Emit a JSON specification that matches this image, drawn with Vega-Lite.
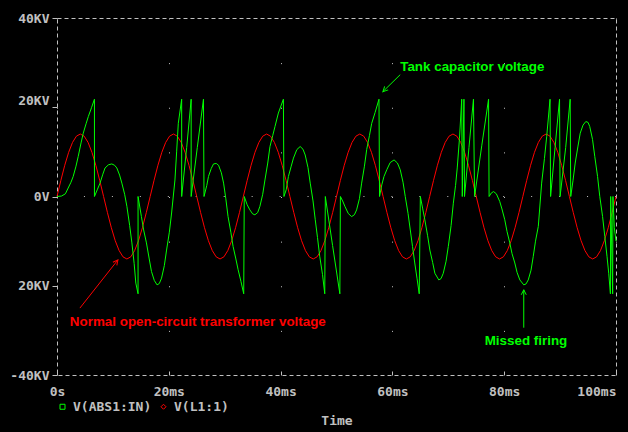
{
  "$schema": "https://vega.github.io/schema/vega-lite/v6.json",
  "width": 559,
  "height": 357,
  "autosize": {"type": "none"},
  "padding": {"left": 57, "top": 18, "right": 12, "bottom": 57},
  "background": "#000000",
  "datasets": {
    "one": [{}],
    "red": [
      {"t":0,"v":0},{"t":0.694,"v":3.62},{"t":1.389,"v":7},{"t":2.083,"v":9.9},{"t":2.778,"v":12.12},{"t":3.472,"v":13.52},{"t":4.167,"v":14},{"t":4.861,"v":13.52},{"t":5.556,"v":12.12},{"t":6.25,"v":9.9},{"t":6.944,"v":7},{"t":7.639,"v":3.62},{"t":8.333,"v":0},{"t":9.028,"v":-3.62},{"t":9.722,"v":-7},{"t":10.417,"v":-9.9},{"t":11.111,"v":-12.12},{"t":11.806,"v":-13.52},{"t":12.5,"v":-14},{"t":13.194,"v":-13.52},{"t":13.889,"v":-12.12},{"t":14.583,"v":-9.9},{"t":15.278,"v":-7},{"t":15.972,"v":-3.62},
      {"t":16.667,"v":0},{"t":17.361,"v":3.62},{"t":18.056,"v":7},{"t":18.75,"v":9.9},{"t":19.444,"v":12.12},{"t":20.139,"v":13.52},{"t":20.833,"v":14},{"t":21.528,"v":13.52},{"t":22.222,"v":12.12},{"t":22.917,"v":9.9},{"t":23.611,"v":7},{"t":24.306,"v":3.62},{"t":25,"v":0},{"t":25.694,"v":-3.62},{"t":26.389,"v":-7},{"t":27.083,"v":-9.9},{"t":27.778,"v":-12.12},{"t":28.472,"v":-13.52},{"t":29.167,"v":-14},{"t":29.861,"v":-13.52},{"t":30.556,"v":-12.12},{"t":31.25,"v":-9.9},{"t":31.944,"v":-7},{"t":32.639,"v":-3.62},
      {"t":33.333,"v":0},{"t":34.028,"v":3.62},{"t":34.722,"v":7},{"t":35.417,"v":9.9},{"t":36.111,"v":12.12},{"t":36.806,"v":13.52},{"t":37.5,"v":14},{"t":38.194,"v":13.52},{"t":38.889,"v":12.12},{"t":39.583,"v":9.9},{"t":40.278,"v":7},{"t":40.972,"v":3.62},{"t":41.667,"v":0},{"t":42.361,"v":-3.62},{"t":43.056,"v":-7},{"t":43.75,"v":-9.9},{"t":44.444,"v":-12.12},{"t":45.139,"v":-13.52},{"t":45.833,"v":-14},{"t":46.528,"v":-13.52},{"t":47.222,"v":-12.12},{"t":47.917,"v":-9.9},{"t":48.611,"v":-7},{"t":49.306,"v":-3.62},
      {"t":50,"v":0},{"t":50.694,"v":3.62},{"t":51.389,"v":7},{"t":52.083,"v":9.9},{"t":52.778,"v":12.12},{"t":53.472,"v":13.52},{"t":54.167,"v":14},{"t":54.861,"v":13.52},{"t":55.556,"v":12.12},{"t":56.25,"v":9.9},{"t":56.944,"v":7},{"t":57.639,"v":3.62},{"t":58.333,"v":0},{"t":59.028,"v":-3.62},{"t":59.722,"v":-7},{"t":60.417,"v":-9.9},{"t":61.111,"v":-12.12},{"t":61.806,"v":-13.52},{"t":62.5,"v":-14},{"t":63.194,"v":-13.52},{"t":63.889,"v":-12.12},{"t":64.583,"v":-9.9},{"t":65.278,"v":-7},{"t":65.972,"v":-3.62},
      {"t":66.667,"v":0},{"t":67.361,"v":3.62},{"t":68.056,"v":7},{"t":68.75,"v":9.9},{"t":69.444,"v":12.12},{"t":70.139,"v":13.52},{"t":70.833,"v":14},{"t":71.528,"v":13.52},{"t":72.222,"v":12.12},{"t":72.917,"v":9.9},{"t":73.611,"v":7},{"t":74.306,"v":3.62},{"t":75,"v":0},{"t":75.694,"v":-3.62},{"t":76.389,"v":-7},{"t":77.083,"v":-9.9},{"t":77.778,"v":-12.12},{"t":78.472,"v":-13.52},{"t":79.167,"v":-14},{"t":79.861,"v":-13.52},{"t":80.556,"v":-12.12},{"t":81.25,"v":-9.9},{"t":81.944,"v":-7},{"t":82.639,"v":-3.62},
      {"t":83.333,"v":0},{"t":84.028,"v":3.62},{"t":84.722,"v":7},{"t":85.417,"v":9.9},{"t":86.111,"v":12.12},{"t":86.806,"v":13.52},{"t":87.5,"v":14},{"t":88.194,"v":13.52},{"t":88.889,"v":12.12},{"t":89.583,"v":9.9},{"t":90.278,"v":7},{"t":90.972,"v":3.62},{"t":91.667,"v":0},{"t":92.361,"v":-3.62},{"t":93.056,"v":-7},{"t":93.75,"v":-9.9},{"t":94.444,"v":-12.12},{"t":95.139,"v":-13.52},{"t":95.833,"v":-14},{"t":96.528,"v":-13.52},{"t":97.222,"v":-12.12},{"t":97.917,"v":-9.9},{"t":98.611,"v":-7},{"t":99.306,"v":-3.62},{"t":100,"v":0}
    ],
    "green": [
      {"t":0,"v":0},{"t":0.8,"v":0.1},{"t":1.5,"v":0.6},{"t":2.0,"v":1.9},{"t":2.5,"v":3.2},{"t":2.9,"v":4.5},{"t":3.4,"v":6.8},{"t":3.8,"v":9},{"t":4.3,"v":12},{"t":4.7,"v":14.2},{"t":5.2,"v":16.3},{"t":5.6,"v":17.9},{"t":6.2,"v":20},{"t":6.7,"v":21.8},{"t":6.7,"v":0},
      {"t":7.2,"v":1.5},{"t":7.7,"v":3},{"t":8.2,"v":5},{"t":8.6,"v":6.4},{"t":9.2,"v":7.1},{"t":9.8,"v":7.3},{"t":10.3,"v":7},{"t":10.7,"v":6.4},{"t":11.2,"v":4.8},{"t":11.6,"v":3},{"t":12.1,"v":0.5},{"t":12.5,"v":-2.2},{"t":13.0,"v":-6.5},{"t":13.4,"v":-10.4},{"t":13.8,"v":-15},{"t":14.1,"v":-19.4},{"t":14.5,"v":-21.8},{"t":14.5,"v":0},
      {"t":15.1,"v":-4.5},{"t":15.5,"v":-7.5},{"t":16.0,"v":-10.4},{"t":16.5,"v":-14},{"t":16.9,"v":-16.8},{"t":17.4,"v":-18.8},{"t":17.9,"v":-19.8},{"t":18.3,"v":-19.5},{"t":18.7,"v":-18.3},{"t":19.2,"v":-15.5},{"t":19.6,"v":-12},{"t":20.1,"v":-8},{"t":20.5,"v":-3.7},{"t":21.1,"v":3.7},{"t":21.4,"v":10},{"t":21.7,"v":16.4},{"t":22.3,"v":21.8},{"t":22.3,"v":0},
      {"t":23.2,"v":11},{"t":24.0,"v":21.8},{"t":24.0,"v":0},{"t":25.1,"v":11},{"t":26.2,"v":21.8},{"t":26.3,"v":0},
      {"t":26.8,"v":2.5},{"t":27.1,"v":4.5},{"t":27.6,"v":6.3},{"t":28.0,"v":7.3},{"t":28.5,"v":7.4},{"t":28.9,"v":7},{"t":29.4,"v":5.3},{"t":29.8,"v":3},{"t":30.2,"v":-0.5},{"t":30.6,"v":-4.5},{"t":31.1,"v":-8},{"t":31.5,"v":-11.2},{"t":32.0,"v":-14},{"t":32.4,"v":-16.4},{"t":32.9,"v":-19},{"t":33.4,"v":-21.8},{"t":33.5,"v":0},
      {"t":34.0,"v":-1.8},{"t":34.5,"v":-3},{"t":35.0,"v":-3.9},{"t":35.4,"v":-4.1},{"t":35.9,"v":-3.6},{"t":36.3,"v":-2.2},{"t":36.8,"v":0.5},{"t":37.2,"v":3.7},{"t":37.7,"v":7.5},{"t":38.1,"v":11.2},{"t":38.6,"v":13.7},{"t":39.0,"v":15.7},{"t":39.6,"v":18.7},{"t":40.5,"v":21.8},{"t":40.6,"v":0},
      {"t":41.0,"v":1.5},{"t":41.4,"v":4.5},{"t":41.9,"v":6.8},{"t":42.3,"v":8.6},{"t":42.9,"v":10.5},{"t":43.5,"v":11.2},{"t":44.0,"v":10.6},{"t":44.4,"v":9.3},{"t":44.9,"v":6.5},{"t":45.3,"v":3},{"t":45.8,"v":-1},{"t":46.2,"v":-5.2},{"t":46.6,"v":-9.2},{"t":47.0,"v":-13.4},{"t":47.5,"v":-17.5},{"t":47.9,"v":-21.8},{"t":48.0,"v":0},
      {"t":49.3,"v":-11},{"t":50.6,"v":-21.8},{"t":50.7,"v":0},
      {"t":51.1,"v":-1},{"t":51.5,"v":-2.2},{"t":52.1,"v":-3.8},{"t":52.7,"v":-4.5},{"t":53.2,"v":-4.1},{"t":53.6,"v":-3},{"t":54.1,"v":-0.5},{"t":54.5,"v":3},{"t":55.0,"v":6.8},{"t":55.4,"v":10.5},{"t":55.9,"v":13.7},{"t":56.3,"v":16.4},{"t":56.9,"v":18.8},{"t":57.6,"v":21.8},{"t":57.7,"v":0},
      {"t":58.1,"v":2.6},{"t":58.5,"v":4.5},{"t":59.0,"v":6},{"t":59.6,"v":7.6},{"t":60.3,"v":8.2},{"t":60.9,"v":7.5},{"t":61.4,"v":6},{"t":61.9,"v":3.2},{"t":62.3,"v":0},{"t":62.8,"v":-3.8},{"t":63.2,"v":-7.5},{"t":63.6,"v":-11.2},{"t":64.0,"v":-14.9},{"t":64.4,"v":-18.3},{"t":64.8,"v":-21.8},{"t":65.0,"v":0},
      {"t":65.4,"v":-2.6},{"t":65.8,"v":-5.2},{"t":66.3,"v":-8.8},{"t":66.7,"v":-12},{"t":67.2,"v":-14.8},{"t":67.6,"v":-17.2},{"t":68.3,"v":-18.7},{"t":68.7,"v":-18.4},{"t":69.1,"v":-17.2},{"t":69.6,"v":-14.5},{"t":70.0,"v":-11.2},{"t":70.5,"v":-6.5},{"t":70.9,"v":-1.5},{"t":71.3,"v":2.5},{"t":71.6,"v":6.4},{"t":72.0,"v":13},{"t":72.4,"v":21.8},{"t":72.5,"v":0},
      {"t":72.8,"v":21.8},{"t":72.9,"v":0},{"t":73.7,"v":11},{"t":74.5,"v":21.8},{"t":74.7,"v":0},{"t":76.0,"v":11.5},{"t":77.2,"v":21.8},{"t":77.3,"v":0},
      {"t":77.7,"v":0.8},{"t":78.1,"v":1.1},{"t":78.6,"v":0.6},{"t":79.2,"v":-1.1},{"t":79.6,"v":-2.8},{"t":80.1,"v":-5.2},{"t":80.5,"v":-7.8},{"t":81.0,"v":-10.4},{"t":81.4,"v":-12.8},{"t":81.9,"v":-14.9},{"t":82.3,"v":-17},{"t":82.8,"v":-18.7},{"t":83.5,"v":-19.8},{"t":83.9,"v":-19.6},{"t":84.3,"v":-18.7},{"t":84.8,"v":-16.5},{"t":85.2,"v":-13.4},{"t":85.6,"v":-10},{"t":86.1,"v":-6.7},{"t":86.7,"v":3},{"t":87.2,"v":8.5},{"t":87.6,"v":13.4},{"t":88.2,"v":21.8},{"t":88.3,"v":0},
      {"t":89.1,"v":11},{"t":89.9,"v":21.8},{"t":90.0,"v":0},{"t":91.0,"v":11},{"t":91.8,"v":21.8},{"t":91.9,"v":0},
      {"t":92.3,"v":3.5},{"t":92.7,"v":7.5},{"t":93.2,"v":11.3},{"t":93.6,"v":14.2},{"t":94.1,"v":16},{"t":94.6,"v":16.8},{"t":95.0,"v":16.6},{"t":95.3,"v":15.7},{"t":95.8,"v":12.8},{"t":96.2,"v":9},{"t":96.7,"v":4.5},{"t":97.1,"v":0},{"t":97.6,"v":-4.5},{"t":98.0,"v":-9},{"t":98.4,"v":-13.5},{"t":98.7,"v":-17.2},{"t":99.0,"v":-21.8},{"t":99.05,"v":0},{"t":99.4,"v":-21.8},{"t":99.45,"v":0},{"t":99.7,"v":-7},{"t":100,"v":-10}
    ]
  },
  "data": {"name": "one"},
  "layer": [
    {
      "mark": {"type": "rule", "color": "#c0c0c0", "strokeWidth": 1, "strokeDash": [1, 26.95]},
      "encoding": {"y": {"datum": 0}}
    },
    {
      "data": {"name": "red"},
      "mark": {"type": "line", "strokeWidth": 1},
      "encoding": {
        "x": {
          "field": "t", "type": "quantitative", "title": "Time",
          "scale": {"domain": [0, 100], "nice": false, "zero": false},
          "axis": {
            "values": [0, 20, 40, 60, 80, 100],
            "labelExpr": "datum.value == 0 ? '0s' : datum.value + 'ms'",
            "grid": true, "gridDash": [1, 43.625], "gridColor": "#c0c0c0", "gridOpacity": 1,
            "domain": false, "ticks": true, "tickSize": -4, "tickColor": "#c0c0c0",
            "labelAlign": {"condition": {"test": "datum.value == 100", "value": "right"}, "value": "center"},
            "labelPadding": 14, "titlePadding": 16
          }
        },
        "y": {
          "field": "v", "type": "quantitative", "title": null,
          "scale": {"domain": [-40, 40], "nice": false, "zero": false},
          "axis": {
            "values": [-40, -20, 0, 20, 40],
            "labelExpr": "datum.value == 0 ? '0V' : (datum.value == -20 ? '20KV' : datum.value + 'KV')",
            "grid": false, "domain": false, "tickSize": 5, "tickColor": "#c0c0c0", "labelPadding": 3,
            "labelOffset": {"condition": {"test": "datum.value == 20", "value": -7}, "value": 0}
          }
        },
        "color": {
          "datum": "V(L1:1)",
          "scale": {"domain": ["V(ABS1:IN)", "V(L1:1)"], "range": ["#00ff00", "#ff0000"]},
          "legend": {
            "orient": "none", "legendX": -1, "legendY": 382, "direction": "horizontal", "title": null,
            "padding": 0, "columnPadding": 5, "labelOffset": 4, "symbolSize": 25, "symbolStrokeWidth": 1,
            "symbolType": "square",
            "labelFont": "DejaVu Sans Mono", "labelFontSize": 13, "labelFontWeight": "bold", "labelColor": "#c0c0c0",
            "encode": {"symbols": {"update": {
              "shape": {"signal": "datum.value === 'V(L1:1)' ? 'diamond' : 'square'"},
              "fill": {"value": "transparent"},
              "strokeWidth": {"value": 1}
            }}}
          }
        },
        "order": {"value": null}
      }
    },
    {
      "data": {"name": "green"},
      "mark": {"type": "line", "strokeWidth": 1},
      "encoding": {
        "x": {"field": "t", "type": "quantitative"},
        "y": {"field": "v", "type": "quantitative"},
        "color": {"datum": "V(ABS1:IN)"},
        "order": {"value": null}
      }
    },
    {
      "mark": {"type": "text", "color": "#00ff00", "font": "Liberation Sans", "fontWeight": "bold", "fontSize": 13.4, "align": "left", "baseline": "middle"},
      "encoding": {"x": {"datum": 61.4}, "y": {"datum": 29.1}, "text": {"value": "Tank capacitor voltage"}}
    },
    {
      "mark": {"type": "rule", "color": "#00ff00", "strokeWidth": 1},
      "encoding": {"x": {"datum": 61.4}, "y": {"datum": 27.3}, "x2": {"datum": 58.3}, "y2": {"datum": 23.5}}
    },
    {
      "mark": {"type": "point", "shape": "M -0.5 1 L 0 0 L 0.5 1", "filled": false, "color": "#00ff00", "strokeWidth": 1, "size": 100, "angle": 225, "opacity": 1},
      "encoding": {"x": {"datum": 58.3}, "y": {"datum": 23.5}}
    },
    {
      "mark": {"type": "text", "color": "#ff0000", "font": "Liberation Sans", "fontWeight": "bold", "fontSize": 13.4, "align": "left", "baseline": "middle"},
      "encoding": {"x": {"datum": 2.3}, "y": {"datum": -28.2}, "text": {"value": "Normal open-circuit transformer voltage"}}
    },
    {
      "mark": {"type": "rule", "color": "#ff0000", "strokeWidth": 1},
      "encoding": {"x": {"datum": 4.1}, "y": {"datum": -25.0}, "x2": {"datum": 10.9}, "y2": {"datum": -14.2}}
    },
    {
      "mark": {"type": "point", "shape": "M -0.5 1 L 0 0 L 0.5 1", "filled": false, "color": "#ff0000", "strokeWidth": 1, "size": 100, "angle": 38, "opacity": 1},
      "encoding": {"x": {"datum": 10.9}, "y": {"datum": -14.2}}
    },
    {
      "mark": {"type": "text", "color": "#00ff00", "font": "Liberation Sans", "fontWeight": "bold", "fontSize": 13.4, "align": "center", "baseline": "middle"},
      "encoding": {"x": {"datum": 83.9}, "y": {"datum": -32.3}, "text": {"value": "Missed firing"}}
    },
    {
      "mark": {"type": "rule", "color": "#00ff00", "strokeWidth": 1},
      "encoding": {"x": {"datum": 83.5}, "y": {"datum": -29.4}, "x2": {"datum": 83.5}, "y2": {"datum": -20.9}}
    },
    {
      "mark": {"type": "point", "shape": "M -0.5 1 L 0 0 L 0.5 1", "filled": false, "color": "#00ff00", "strokeWidth": 1, "size": 100, "angle": 0, "opacity": 1},
      "encoding": {"x": {"datum": 83.5}, "y": {"datum": -20.9}}
    }
  ],
  "config": {
    "view": {"stroke": "#c0c0c0", "strokeDash": [4, 3], "strokeWidth": 1},
    "axis": {
      "labelFont": "DejaVu Sans Mono", "labelFontSize": 13, "labelFontWeight": "bold", "labelColor": "#c0c0c0",
      "titleFont": "DejaVu Sans Mono", "titleFontSize": 13, "titleFontWeight": "bold", "titleColor": "#c0c0c0"
    }
  }
}
